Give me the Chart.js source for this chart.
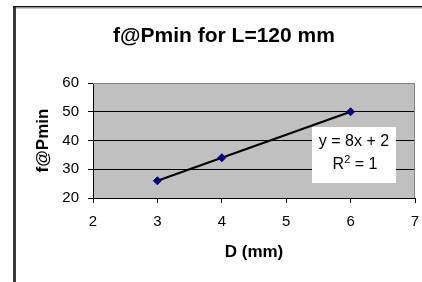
<!DOCTYPE html>
<html>
<head>
<meta charset="utf-8">
<script src="https://cdn.jsdelivr.net/npm/chart.js@4/dist/chart.umd.min.js"></script>
<style>
html,body{margin:0;padding:0;background:#fff;}
#wrap{position:relative;width:422px;height:282px;}
</style>
</head>
<body>
<div id="wrap"><canvas id="c" width="422" height="282"></canvas></div>
<script>
// ---- data ----
const titleText = 'f@Pmin for L=120 mm';
const xTitle = 'D (mm)';
const yTitle = 'f@Pmin';
const dValues = [3, 4, 6];
const fValues = [26, 34, 50];
const xTicks = [2, 3, 4, 5, 6, 7];
const yTicks = [20, 30, 40, 50, 60];
const trendEquation = 'y = 8x + 2';
const trendR2 = ['R', '2', ' = 1'];

const FONT = "'Liberation Sans', Arial, sans-serif";

const points = dValues.map((d, i) => ({x: d, y: fValues[i]}));

const framePlugin = {
  id: 'frame',
  afterLayout(chart) {
    const tb = chart.titleBlock;
    if (tb) { tb.left = 26; tb.right = chart.width; tb.width = tb.right - tb.left; }
  },
  beforeDraw(chart) {
    const ctx = chart.ctx;
    const a = chart.chartArea;
    ctx.save();
    ctx.fillStyle = '#ffffff';
    ctx.fillRect(0, 0, chart.width, chart.height);
    // outer chart border (left + top visible)
    ctx.fillStyle = '#3a3a3a';
    ctx.fillRect(13, 7, 3, chart.height - 7);
    ctx.fillStyle = '#111';
    ctx.fillRect(13, 6, chart.width - 13, 1.5);
    ctx.fillStyle = '#999';
    ctx.fillRect(16, 7.5, chart.width - 16, 1);
    // plot area background
    ctx.fillStyle = '#C0C0C0';
    ctx.fillRect(a.left, a.top, a.right - a.left, a.bottom - a.top);
    ctx.restore();
  },
  beforeDatasetsDraw(chart) {
    const ctx = chart.ctx;
    const a = chart.chartArea;
    ctx.save();
    ctx.strokeStyle = '#808080';
    ctx.lineWidth = 1;
    ctx.beginPath();
    ctx.moveTo(a.left, a.top + 0.5);
    ctx.lineTo(a.right - 0.5, a.top + 0.5);
    ctx.lineTo(a.right - 0.5, a.bottom);
    ctx.stroke();
    ctx.restore();
  },
  afterDatasetsDraw(chart) {
    const ctx = chart.ctx;
    const a = chart.chartArea;
    ctx.save();
    const bx = a.left + 219, by = a.top + 44, bw = 84, bh = 56;
    ctx.fillStyle = '#ffffff';
    ctx.fillRect(bx, by, bw, bh);
    ctx.fillStyle = '#000';
    ctx.font = '16px ' + FONT;
    ctx.textAlign = 'center';
    ctx.textBaseline = 'middle';
    const cx = bx + bw / 2;
    ctx.fillText(trendEquation, cx, by + 15);
    // R^2 line with superscript
    const big = '16px ' + FONT, small = '11px ' + FONT;
    ctx.font = big;
    const w1 = ctx.measureText(trendR2[0]).width;
    const w3 = ctx.measureText(trendR2[2]).width;
    ctx.font = small;
    const w2 = ctx.measureText(trendR2[1]).width;
    let x = cx + 1 - (w1 + w2 + w3) / 2;
    const y = by + 38;
    ctx.textAlign = 'left';
    ctx.font = big;
    ctx.fillText(trendR2[0], x, y);
    x += w1;
    ctx.font = small;
    ctx.fillText(trendR2[1], x, y - 5);
    x += w2;
    ctx.font = big;
    ctx.fillText(trendR2[2], x, y);
    ctx.restore();
  }
};

new Chart(document.getElementById('c'), {
  type: 'scatter',
  data: {
    datasets: [{
      data: points,
      showLine: true,
      borderColor: '#000000',
      borderWidth: 2.2,
      pointStyle: 'rectRot',
      pointRadius: 4,
      pointHoverRadius: 4,
      pointBackgroundColor: '#000080',
      pointBorderColor: '#000080',
      pointBorderWidth: 1
    }]
  },
  options: {
    responsive: false,
    animation: false,
    events: [],
    layout: {padding: {left: 20, right: 7, top: 0, bottom: 0}},
    plugins: {
      legend: {display: false},
      tooltip: {enabled: false},
      title: {
        display: true,
        text: titleText,
        color: '#000',
        font: {family: FONT, size: 21, weight: 'bold', lineHeight: 1.2},
        padding: {top: 23.4, bottom: 34.4}
      }
    },
    scales: {
      x: {
        type: 'linear',
        min: xTicks[0],
        max: xTicks[xTicks.length - 1],
        afterBuildTicks(s) { s.ticks = xTicks.map(v => ({value: v})); },
        afterFit(s) { s.height = 84; s.paddingLeft = 0; s.paddingRight = 0; },
        ticks: {
          color: '#000',
          font: {family: FONT, size: 15},
          padding: 10,
          maxRotation: 0
        },
        grid: {
          drawOnChartArea: false,
          drawTicks: true,
          tickLength: 5,
          tickColor: '#000',
          tickWidth: 1
        },
        border: {display: true, color: '#000', width: 1},
        title: {
          display: true,
          text: xTitle,
          color: '#000',
          font: {family: FONT, size: 17, weight: 'bold', lineHeight: 1.2},
          padding: {top: 0, bottom: 19}
        }
      },
      y: {
        type: 'linear',
        min: yTicks[0],
        max: yTicks[yTicks.length - 1],
        afterBuildTicks(s) { s.ticks = yTicks.map(v => ({value: v})); },
        afterFit(s) { s.width = 73; s.paddingTop = 0; s.paddingBottom = 0; },
        ticks: {
          color: '#000',
          font: {family: FONT, size: 15},
          padding: 9
        },
        grid: {
          drawOnChartArea: true,
          color: (c) => (c.tick && c.tick.value === yTicks[yTicks.length - 1]) ? '#808080' : '#000000',
          lineWidth: 1,
          drawTicks: true,
          tickLength: 5,
          tickColor: '#000',
          tickWidth: 1
        },
        border: {display: true, color: '#000', width: 1},
        title: {
          display: true,
          text: yTitle,
          color: '#000',
          font: {family: FONT, size: 17, weight: 'bold', lineHeight: 1.2},
          padding: {top: 13, bottom: 0}
        }
      }
    }
  },
  plugins: [framePlugin]
});
</script>
</body>
</html>
